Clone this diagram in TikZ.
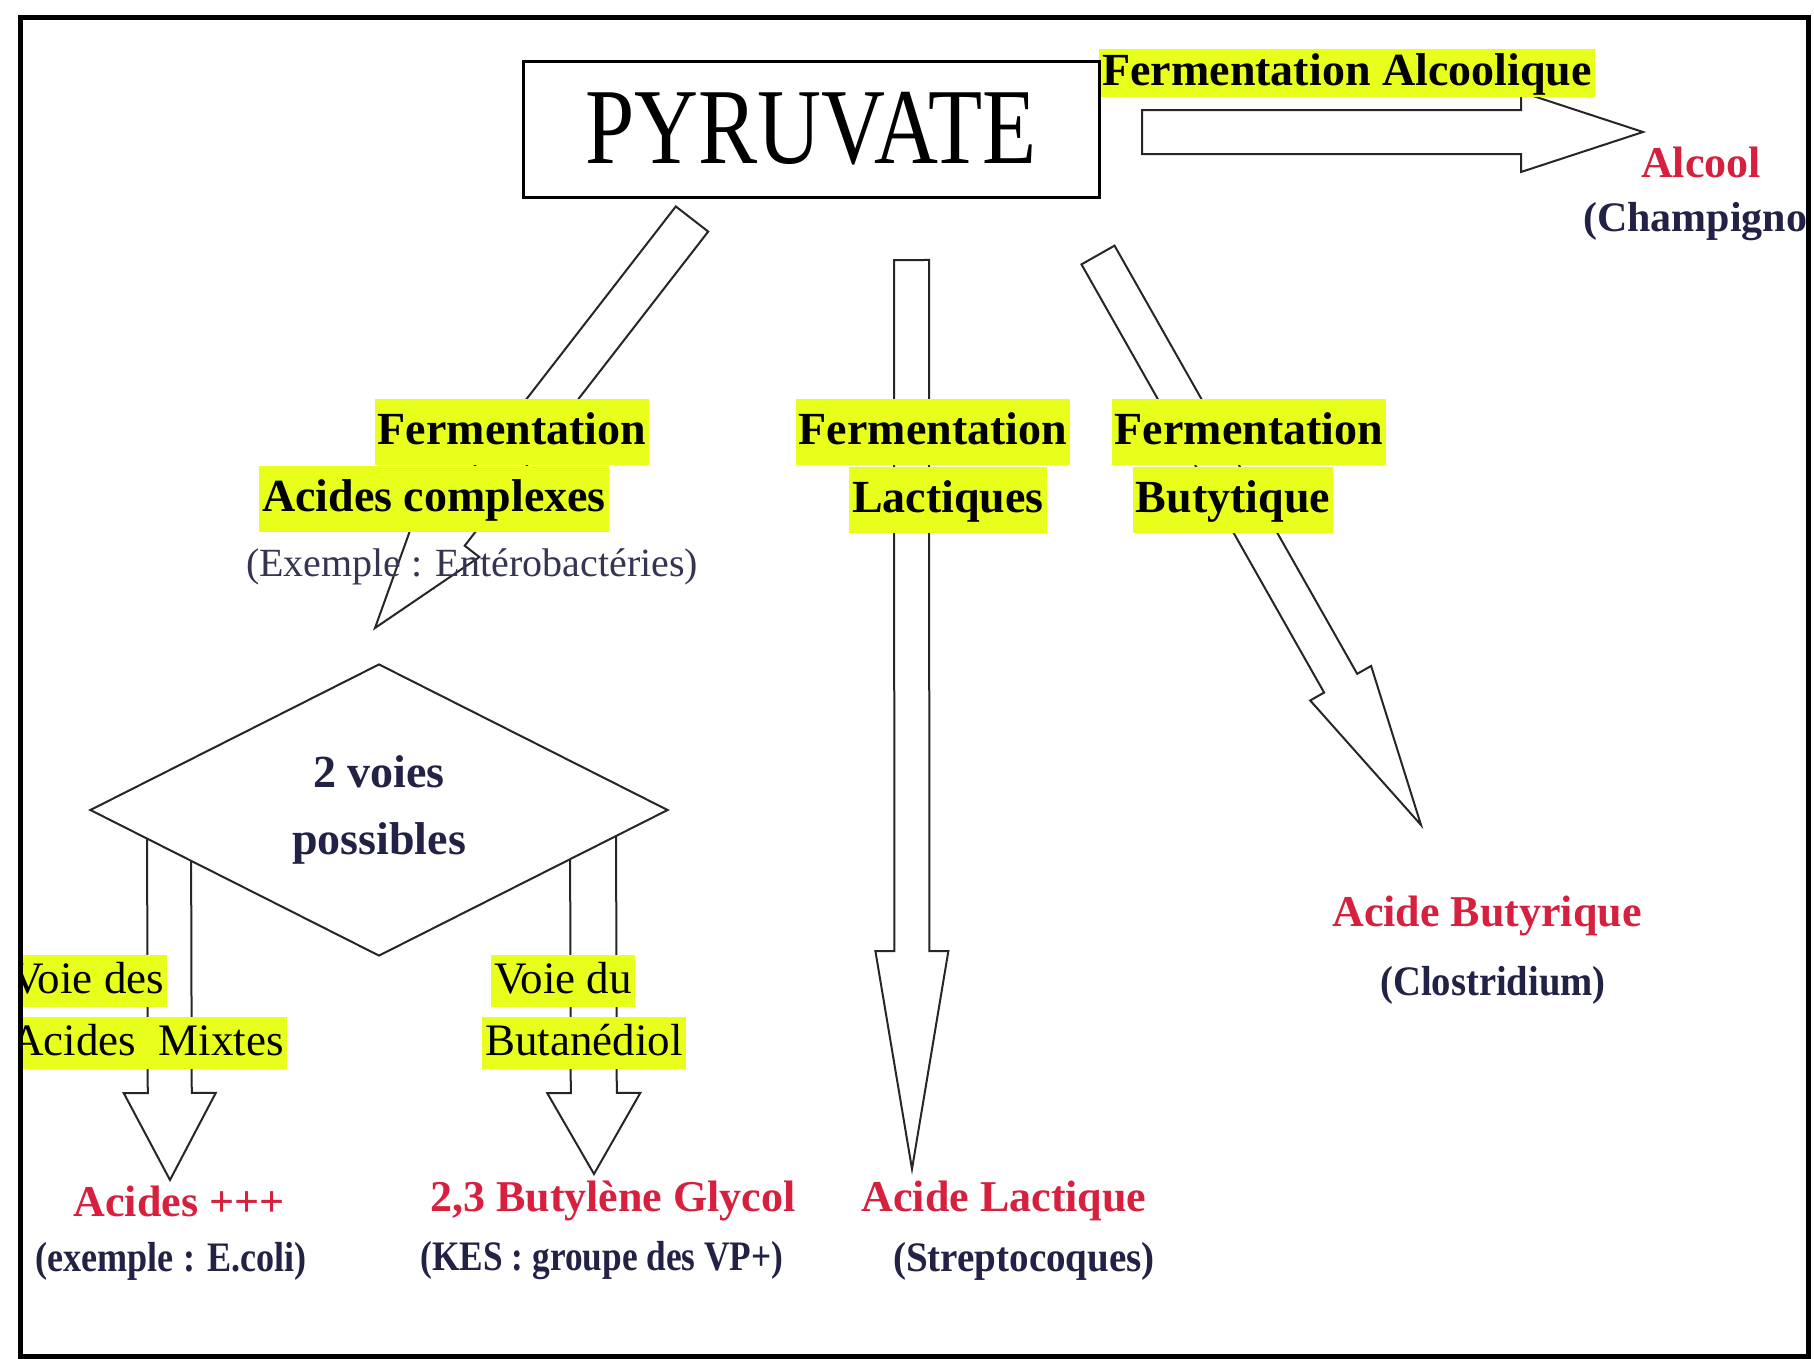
\documentclass[tikz,border=0pt]{standalone}
\usepackage{fontspec}
\setmainfont{Liberation Serif}
\usepackage{graphicx}
\usetikzlibrary{calc,shapes.geometric}
\definecolor{hlc}{RGB}{232,255,28}
\definecolor{redc}{RGB}{214,32,62}
\definecolor{navyc}{RGB}{34,34,70}
\newcommand\fsz[1]{\fontsize{#1}{#1}\selectfont}
% start, tip, shaft half width, head half width, head length
\newcommand\blockarrow[5]{%
  \coordinate (#1h) at ($(#2)!#5!(#1)$);
  \draw[barrow] ($(#1)!#3!90:(#2)$) -- ($(#1h)!#3!90:(#2)$) -- ($(#1h)!#4!90:(#2)$) -- (#2)
     -- ($(#1h)!#4!-90:(#2)$) -- ($(#1h)!#3!-90:(#2)$) -- ($(#1)!#3!-90:(#2)$) -- cycle;}
\begin{document}
\begin{tikzpicture}[x=1pt,y=-1pt,
  barrow/.style={draw=black!85,line width=2pt,fill=white,line join=miter},
  hlb/.style={fill=hlc,inner xsep=3pt,inner ysep=9pt,text height=36pt,text depth=12pt,font=\bfseries\fsz{46}},
  hlr/.style={fill=hlc,inner xsep=3pt,inner ysep=4pt,text height=34pt,text depth=10pt,font=\fsz{45}},
  redl/.style={text=redc,inner sep=0pt,font=\bfseries\fsz{44}},
  blk/.style={text=navyc,inner sep=0pt,font=\bfseries\fsz{42}},
  sub/.style={text=navyc!80!gray,inner sep=0pt,font=\fsz{40}}]
\useasboundingbox (0,0) rectangle (1814,1358);
\fill[white] (0,0) rectangle (1814,1358);
\begin{scope}
\clip (20,17) rectangle (1808,1356);
% arrow end points
\coordinate (alcS) at (1142,132);
\coordinate (alcT) at (1643,132);
\coordinate (acS) at (692,219);
\coordinate (acT) at (375,628);
\coordinate (laS) at (911.5,260);
\coordinate (laT) at (912,1169);
\coordinate (buS) at (1098,255);
\coordinate (buT) at (1421,825);
\coordinate (mxS) at (169,815);
\coordinate (mxT) at (170,1180);
\coordinate (bdS) at (593,815);
\coordinate (bdT) at (594,1174);
\blockarrow{alcS}{alcT}{22pt}{40pt}{122pt}
\blockarrow{acS}{acT}{20.5pt}{39pt}{120pt}
\blockarrow{laS}{laT}{17.5pt}{36.5pt}{218pt}
\blockarrow{buS}{buT}{19pt}{35pt}{163pt}
\blockarrow{mxS}{mxT}{22pt}{46pt}{87pt}
\blockarrow{bdS}{bdT}{23pt}{46.5pt}{81pt}
% diamond
\node[diamond,draw=black!85,line width=2pt,fill=white,minimum width=578pt,minimum height=292pt,inner sep=0pt,
  align=center,text=navyc,font=\bfseries\fontsize{46}{67}\selectfont] (dia) at (379,810)
  {2 voies\\possibles};
% highlighted labels
\node[hlb] (fa1) at (512,432) {Fermentation};
\node[hlb] (fa2) at (434,499) {Acides complexes};
\node[sub] (ex) at (472,567) {(Exemple : Entérobactéries)};
\node[hlb] (fl1) at (933,432) {Fermentation};
\node[hlb] (fl2) at (948,500) {Lactiques};
\node[hlb] (fb1) at (1249,432) {Fermentation};
\node[hlb] (fb2) at (1233,500) {Butytique};
\node[hlb,inner ysep=2pt,text height=34pt,text depth=10pt] (falc) at (1347,73) {Fermentation Alcoolique};
\node[hlr,anchor=west] (vd1) at (8,981) {Voie des};
\node[hlr,anchor=west] (vd2) at (8,1043) {Acides\ \ Mixtes};
\node[hlr] (vb1) at (563,981) {Voie du};
\node[hlr] (vb2) at (584,1043) {Butanédiol};
% products
\node[redl] (alc) at (1701,162) {Alcool};
\node[blk,anchor=west] (cha) at (1583,222) {(Champignons)};
\node[redl] (acd) at (179,1201) {Acides +++};
\node[blk] (eco) at (171,1261) {\scalebox{0.86}[1]{(exemple : E.coli)}};
\node[redl] (bg) at (613,1201) {2,3 Butylène Glycol};
\node[blk] (kes) at (602,1261) {\scalebox{0.84}[1]{(KES : groupe des VP+)}};
\node[redl] (al) at (1004,1201) {Acide Lactique};
\node[blk] (str) at (1024,1261) {\scalebox{0.93}[1]{(Streptocoques)}};
\node[redl] (ab) at (1487,916) {Acide Butyrique};
\node[blk] (clo) at (1493,985) {\scalebox{0.92}[1]{(Clostridium)}};
% pyruvate box
\node[draw,line width=3pt,fill=white,minimum width=576pt,minimum height=136pt,inner sep=0pt] (pyr) at (811,129)
  {\fsz{108}\scalebox{0.82}[1]{PYRUVATE}};
\end{scope}
\draw[line width=5pt] (20,17) rectangle (1808,1356);
\end{tikzpicture}
\end{document}
